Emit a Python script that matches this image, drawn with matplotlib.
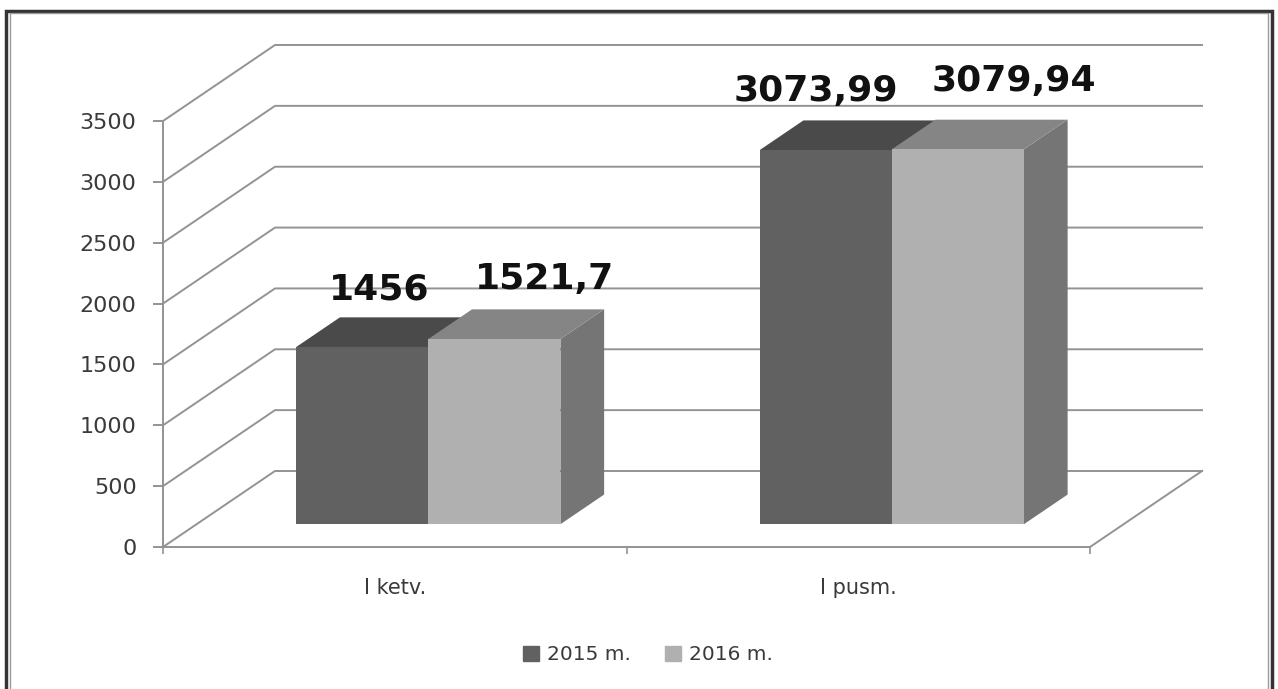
import matplotlib
matplotlib.use("Agg")
import matplotlib.pyplot as plt
from matplotlib.patches import Patch, Rectangle

categories = ["I ketv.", "I pusm."]
series_names = ["2015 m.", "2016 m."]
values_2015 = [1456, 3073.99]
values_2016 = [1521.7, 3079.94]
value_labels_2015 = ["1456", "3073,99"]
value_labels_2016 = ["1521,7", "3079,94"]
y_ticks = [0, 500, 1000, 1500, 2000, 2500, 3000, 3500]

W, H = 1278, 689
# pixel box of the front plane of the fake 3D axes
LEFT, RIGHT, BOTTOM, TOP = 163, 1090, 547, 121
# shift of the back wall in data units
DEPTH_X = 112 / ((RIGHT - LEFT) / 2)
DEPTH_Y = 76 / ((BOTTOM - TOP) / 3500)
BAR_W = 0.285
BAR_D0, BAR_D1 = 0.30, 0.69

GRID = "#939393"
TEXT = "#3a3a3a"
FRONT = ["#616161", "#b0b0b0"]
TOPS = ["#4a4a4a", "#858585"]
SIDES = ["#555555", "#757575"]


def proj(x, v, d):
    return x + d * DEPTH_X, v + d * DEPTH_Y


def face(ax, corners, color, z):
    xs, ys = zip(*[proj(*c) for c in corners])
    ax.fill(xs, ys, color=color, lw=0, clip_on=False, zorder=z)


def draw_bar(ax, x0, v, i, z):
    x1 = x0 + BAR_W
    face(ax, [(x1, 0, BAR_D0), (x1, 0, BAR_D1), (x1, v, BAR_D1), (x1, v, BAR_D0)], SIDES[i], z)
    face(ax, [(x0, v, BAR_D0), (x1, v, BAR_D0), (x1, v, BAR_D1), (x0, v, BAR_D1)], TOPS[i], z)
    face(ax, [(x0, 0, BAR_D0), (x1, 0, BAR_D0), (x1, v, BAR_D0), (x0, v, BAR_D0)], FRONT[i], z)


fig = plt.figure(figsize=(W / 100, H / 100), dpi=100)
ax = fig.add_axes([LEFT / W, 1 - BOTTOM / H, (RIGHT - LEFT) / W, (BOTTOM - TOP) / H])
ax.set_xlim(0, 2)
ax.set_ylim(0, 3500)
ax.patch.set_alpha(0)

# walls
for v in y_ticks:
    x0, y0 = proj(0, v, 0)
    x1, y1 = proj(0, v, 1)
    x2, y2 = proj(2, v, 1)
    ax.plot([x0, x1, x2], [y0, y1, y2], color=GRID, lw=1.4, clip_on=False, zorder=1)
x0, y0 = proj(2, 0, 0)
x1, y1 = proj(2, 0, 1)
ax.plot([x0, x1], [y0, y1], color=GRID, lw=1.4, clip_on=False, zorder=1)

# bars
label_offsets = {(0, 0): (17, 47), (0, 1): (50, 50), (1, 0): (-10, 49), (1, 1): (56, 58)}
for c in range(len(categories)):
    center = c + 0.5
    draw_bar(ax, center - BAR_W, values_2015[c], 0, 2 + c)
    draw_bar(ax, center, values_2016[c], 1, 3 + c)
    for i, (vals, labs) in enumerate([(values_2015, value_labels_2015), (values_2016, value_labels_2016)]):
        xb = center - BAR_W + i * BAR_W + BAR_W / 2
        ox, oy = label_offsets[(c, i)]
        ax.annotate(labs[c], proj(xb, vals[c], BAR_D0), xytext=(ox * 0.72, oy * 0.72),
                    textcoords="offset points", ha="center", va="baseline",
                    fontsize=26, fontweight="bold", color="#111111",
                    zorder=10, annotation_clip=False)

# axes
for s in ["top", "right"]:
    ax.spines[s].set_visible(False)
for s in ["left", "bottom"]:
    ax.spines[s].set_color(GRID)
    ax.spines[s].set_linewidth(1.4)
ax.set_yticks(y_ticks)
ax.set_yticklabels([str(t) for t in y_ticks], fontsize=16, color=TEXT)
ax.tick_params(axis="y", length=7, width=1.4, color=GRID, pad=12)
ax.set_xticks([0, 1, 2])
ax.set_xticklabels([])
ax.tick_params(axis="x", which="major", length=5, width=1.2, color=GRID)
ax.set_xticks([0.5, 1.5], minor=True)
ax.set_xticklabels(categories, minor=True, fontsize=15, color=TEXT)
ax.tick_params(axis="x", which="minor", length=0, pad=22)

# legend
handles = [Patch(color=FRONT[i], label=series_names[i]) for i in range(2)]
fig.legend(handles=handles, loc="center", bbox_to_anchor=(648 / W, 1 - 655 / H), ncol=2,
           frameon=False, handlelength=0.8, handleheight=0.7, handletextpad=0.4,
           columnspacing=1.7, prop={"size": 14.5}, labelcolor=TEXT)

# outer frame of the scanned picture
fig.add_artist(Rectangle((6 / W, -0.02), (W - 12) / W, 1.02 - 11 / H, transform=fig.transFigure,
                         fill=False, edgecolor="#333333", lw=2.5))
fig.add_artist(Rectangle((10 / W, -0.02), (W - 20) / W, 1.02 - 13 / H, transform=fig.transFigure,
                         fill=False, edgecolor="#999999", lw=1))

fig.savefig("out.png", dpi=100)
